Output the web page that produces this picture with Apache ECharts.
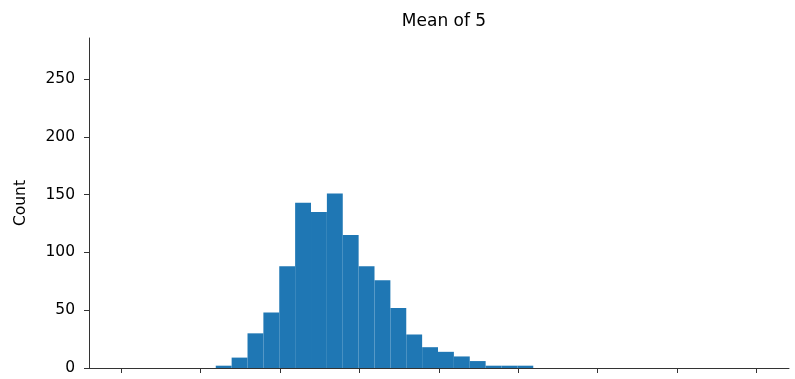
<!DOCTYPE html>
<html>
<head>
<meta charset="utf-8">
<script src="https://cdn.jsdelivr.net/npm/echarts@6/dist/echarts.min.js"></script>
<style>
html,body{margin:0;padding:0;background:#fff;}
#chart{width:795px;height:379px;}
</style>
</head>
<body>
<div id="chart"></div>
<script>
// Histogram "Mean of 5": bin edges start, bin width (x units), counts per bin
const binStart = 1.19;
const binWidth = 0.2;
const counts = [2, 9, 30, 48, 88, 143, 135, 151, 115, 88, 76, 52, 29, 18, 14, 10, 6, 2, 2, 2];
const xTicks = [0, 1, 2, 3, 4, 5, 6, 7, 8];
const yTicks = [0, 50, 100, 150, 200, 250];
const titleText = 'Mean of 5';
const yLabel = 'Count';

const bins = counts.map((c, i) => [binStart + i * binWidth, binStart + (i + 1) * binWidth, c]);

const chart = echarts.init(document.getElementById('chart'), null, {renderer: 'canvas'});
const font = 'DejaVu Sans';
chart.setOption({
  animation: false,
  title: {
    text: titleText, left: 439, top: 8, textAlign: 'center',
    textStyle: {fontFamily: font, fontSize: 17, fontWeight: 'normal', color: '#000'}
  },
  grid: {left: 89, right: 6, top: 38, bottom: 11, containLabel: false},
  xAxis: {
    type: 'value', min: -0.407, max: 8.412,
    axisLine: {show: true, onZero: false, lineStyle: {color: '#333', width: 1}},
    axisTick: {show: true, length: 5, inside: false, customValues: xTicks, lineStyle: {color: '#333'}},
    axisLabel: {show: false},
    splitLine: {show: false}
  },
  yAxis: {
    type: 'value', min: 0, max: 285.6,
    name: yLabel, nameLocation: 'middle', nameGap: 60, nameRotate: 90,
    nameTextStyle: {fontFamily: font, fontSize: 15.5, color: '#000'},
    axisLine: {show: true, onZero: false, lineStyle: {color: '#333', width: 1}},
    axisTick: {show: true, length: 5, inside: false, customValues: yTicks, lineStyle: {color: '#333'}},
    axisLabel: {show: true, customValues: yTicks, margin: 14, fontFamily: font, fontSize: 15.5, color: '#000'},
    splitLine: {show: false}
  },
  series: [{
    type: 'custom',
    data: bins,
    encode: {x: [0, 1], y: 2},
    renderItem: function (params, api) {
      const p0 = api.coord([api.value(0), api.value(2)]);
      const p1 = api.coord([api.value(1), 0]);
      return {
        type: 'rect',
        shape: {x: p0[0], y: p0[1], width: p1[0] - p0[0], height: p1[1] - p0[1]},
        style: {fill: '#1f77b4'}
      };
    }
  }]
});
</script>
</body>
</html>
